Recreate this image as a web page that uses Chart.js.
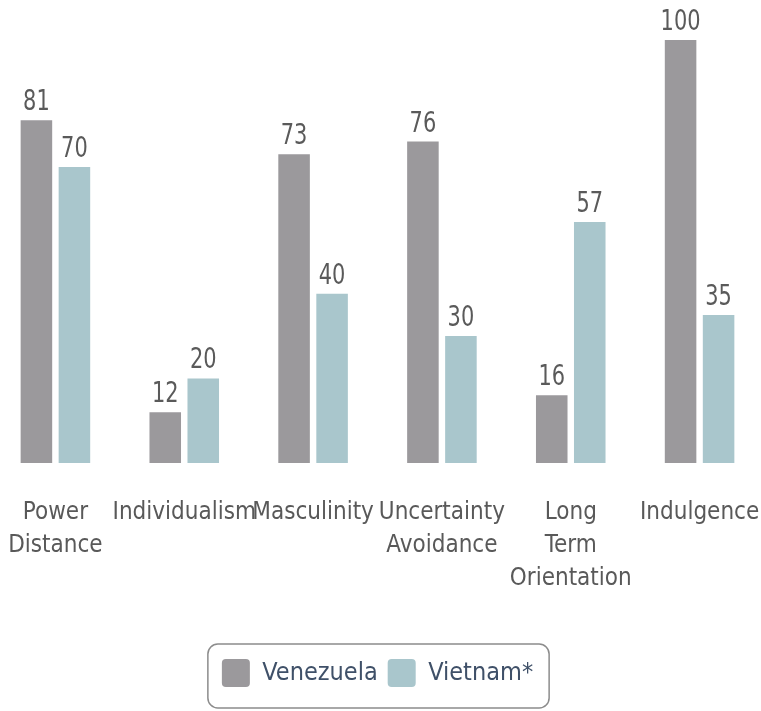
<!DOCTYPE html>
<html>
<head>
<meta charset="utf-8">
<script src="https://cdn.jsdelivr.net/npm/chart.js@4.4.1/dist/chart.umd.min.js"></script>
<style>
  html, body { margin: 0; padding: 0; background: #fff; overflow: hidden; }
  #wrap { position: absolute; left: -9px; top: 0; width: 773px; height: 711px; }
</style>
</head>
<body>
<div id="wrap"><canvas id="hofstede"></canvas></div>
<script>
// Hofstede dimensions
const categories = [
    ['Power', 'Distance'],
    ['Individualism'],
    ['Masculinity'],
    ['Uncertainty', 'Avoidance'],
    ['Long', 'Term', 'Orientation'],
    ['Indulgence']
];
const venezuela = [81, 12, 73, 76, 16, 100];
const vietnam = [70, 20, 40, 30, 57, 35];
const seriesNames = ['Venezuela', 'Vietnam*'];

const condensed = '"DejaVu Sans Condensed", sans-serif';

// numbers above each bar (font squeezed a bit to look narrower)
const valueLabels = {
    id: 'valueLabels',
    afterDatasetsDraw(chart) {
        const ctx = chart.ctx;
        ctx.save();
        ctx.font = '25px ' + condensed;
        ctx.fillStyle = '#5a5a5a';
        ctx.textAlign = 'center';
        ctx.textBaseline = 'alphabetic';
        chart.data.datasets.forEach((ds, i) => {
            chart.getDatasetMeta(i).data.forEach((bar, j) => {
                ctx.save();
                ctx.translate(bar.x, bar.y - 10);
                ctx.scale(0.93, 1.12);
                ctx.fillText(ds.data[j], 0, 0);
                ctx.restore();
            });
        });
        ctx.restore();
    }
};

// rounded frame round the legend
const legendFrame = {
    id: 'legendFrame',
    afterDraw(chart) {
        const boxes = chart.legend.legendHitBoxes;
        if (!boxes || !boxes.length) return;
        const left = Math.min(...boxes.map(b => b.left)) - 14;
        const right = Math.max(...boxes.map(b => b.left + b.width)) + 16;
        const top = Math.min(...boxes.map(b => b.top)) - 15;
        const bottom = Math.max(...boxes.map(b => b.top + b.height)) + 21;
        const ctx = chart.ctx;
        ctx.save();
        ctx.strokeStyle = '#8c8c8c';
        ctx.lineWidth = 1.5;
        ctx.beginPath();
        ctx.roundRect(left, top, right - left, bottom - top, 10);
        ctx.stroke();
        ctx.restore();
    }
};

new Chart(document.getElementById('hofstede'), {
    type: 'bar',
    data: {
        labels: categories,
        datasets: [
            { label: seriesNames[0], data: venezuela, backgroundColor: '#9b999c' },
            { label: seriesNames[1], data: vietnam, backgroundColor: '#a9c6cc' }
        ]
    },
    options: {
        responsive: true,
        maintainAspectRatio: false,
        animation: false,
        categoryPercentage: 0.59,
        barPercentage: 0.83,
        layout: { padding: { top: 40, bottom: 14 } },
        scales: {
            x: {
                grid: { display: false },
                border: { display: false },
                ticks: {
                    autoSkip: false,
                    maxRotation: 0,
                    padding: 25,
                    color: '#595959',
                    font: { family: condensed, size: 24, lineHeight: 1.375 }
                },
                afterFit(scale) {
                    scale.height = 186;
                    // let the outer labels overhang, keep the category bands full width
                    scale.paddingLeft = 0;
                    scale.paddingRight = 0;
                }
            },
            y: { display: false, min: 0, max: 100 }
        },
        plugins: {
            legend: {
                position: 'bottom',
                labels: {
                    boxWidth: 28,
                    boxHeight: 28,
                    padding: 10,
                    color: '#3f5068',
                    useBorderRadius: true,
                    borderRadius: 4,
                    font: { family: condensed, size: 25 }
                }
            },
            tooltip: { enabled: false }
        }
    },
    plugins: [valueLabels, legendFrame]
});
</script>
</body>
</html>
